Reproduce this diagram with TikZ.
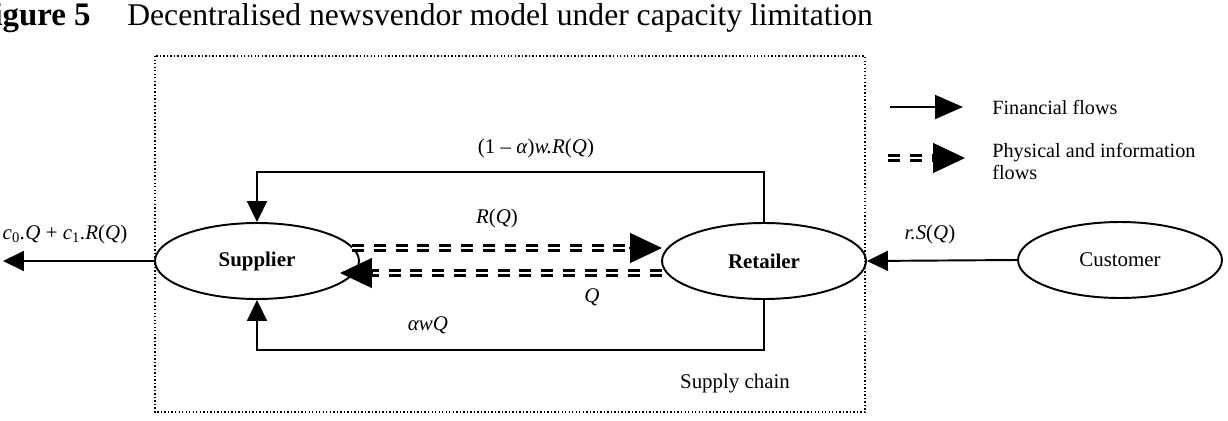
\documentclass[tikz,border=0pt]{standalone}
\usepackage{fontspec}
\setmainfont{Liberation Serif}
\usetikzlibrary{arrows.meta,shapes.geometric,calc}
\begin{document}
\begin{tikzpicture}[x=0.02cm,y=-0.02cm,
  every node/.style={font=\fontsize{11.9}{12.6}\selectfont, inner sep=0pt},
  party/.style={ellipse, draw, line width=1.1pt, minimum width=4.08cm, minimum height=1.52cm},
  partyb/.style={party, font=\fontsize{11.9}{12.6}\selectfont\bfseries},
  flow/.style={line width=1.1pt, -{Triangle[length=0.42cm,width=0.4cm]}},
  legendflow/.style={line width=1.1pt, -{Triangle[length=0.56cm,width=0.48cm]}},
  dbl/.style={line width=1.8pt, double distance=1.3pt, dash pattern=on 6.8pt off 5.6pt},
  bigtip/.style={line width=0.6pt, -{Triangle[length=0.64cm,width=0.6cm]}},
  chainbox/.style={line width=0.8pt, dash pattern=on 0.8pt off 1.2pt}
]
\useasboundingbox (0,0) rectangle (1228,420);
\clip (0,0) rectangle (1228,420);

% title
\node[font=\fontsize{18.7}{20}\selectfont\bfseries, anchor=base east] (fig) at (91,25) {Figure 5};
\node[font=\fontsize{18}{20}\selectfont, anchor=base west] (title) at (127,25) {Decentralised newsvendor model under capacity limitation};

% supply chain frame
\draw[chainbox] (155,56) rectangle (865,412);
\node (sc) at (735,383) {Supply chain};

% parties
\node[partyb] (S) at (257,261) {Supplier};
\node[partyb] (R) at (764,261) {Retailer};
\node[party] (C) at (1120,260) {Customer};

% financial flows
\coordinate (out) at (3,261);
\draw[flow] (S.west) -- (out);
\draw[flow] (C.west) -- (R.east);
\draw[flow] (R.north) -- ++(0,-50) -| (S.north);
\draw[flow] (R.south) -- ++(0,50) -| (S.south);

% physical and information flows
\coordinate (t1) at ($(S.center)+(95,-13)$);
\coordinate (t2) at ($(R.center)+(-102,-13)$);
\draw[dbl] (t1) -- ($(t2)+(-30,0)$);
\draw[bigtip] ($(t2)+(-33,0)$) -- (t2);
\coordinate (b1) at ($(R.center)+(-102,12)$);
\coordinate (b2) at ($(S.center)+(83,12)$);
\draw[dbl] (b1) -- ($(b2)+(30,0)$);
\draw[bigtip] ($(b2)+(33,0)$) -- (b2);

% labels
\node (lc) at (65,234) {\textit{c}\textsubscript{0}\textit{.Q} + \textit{c}\textsubscript{1}\textit{.R}(\textit{Q})};
\node (lr) at (930,234) {\textit{r.S}(\textit{Q})};
\node (l1) at (536,148) {(1 – \textit{α})\textit{w.R}(\textit{Q})};
\node (l2) at (497,218) {\textit{R}(\textit{Q})};
\node (l3) at (592,297) {\textit{Q}};
\node (l4) at (428,325) {\textit{αwQ}};

% legend
\coordinate (lf1) at (890,107);
\coordinate (lf2) at (963,107);
\draw[legendflow] (lf1) -- (lf2);
\node[anchor=west, font=\fontsize{11.5}{12.6}\selectfont] (lft) at (992,107) {Financial flows};
\coordinate (lp1) at (888,158);
\coordinate (lp2) at (965,158);
\draw[dbl] (lp1) -- ($(lp2)+(-30,0)$);
\draw[bigtip] ($(lp2)+(-33,0)$) -- (lp2);
\node[anchor=north west, align=left, font=\fontsize{11.5}{12.6}\selectfont] (lpt) at (992,143) {Physical and information\\flows};
\end{tikzpicture}
\end{document}
